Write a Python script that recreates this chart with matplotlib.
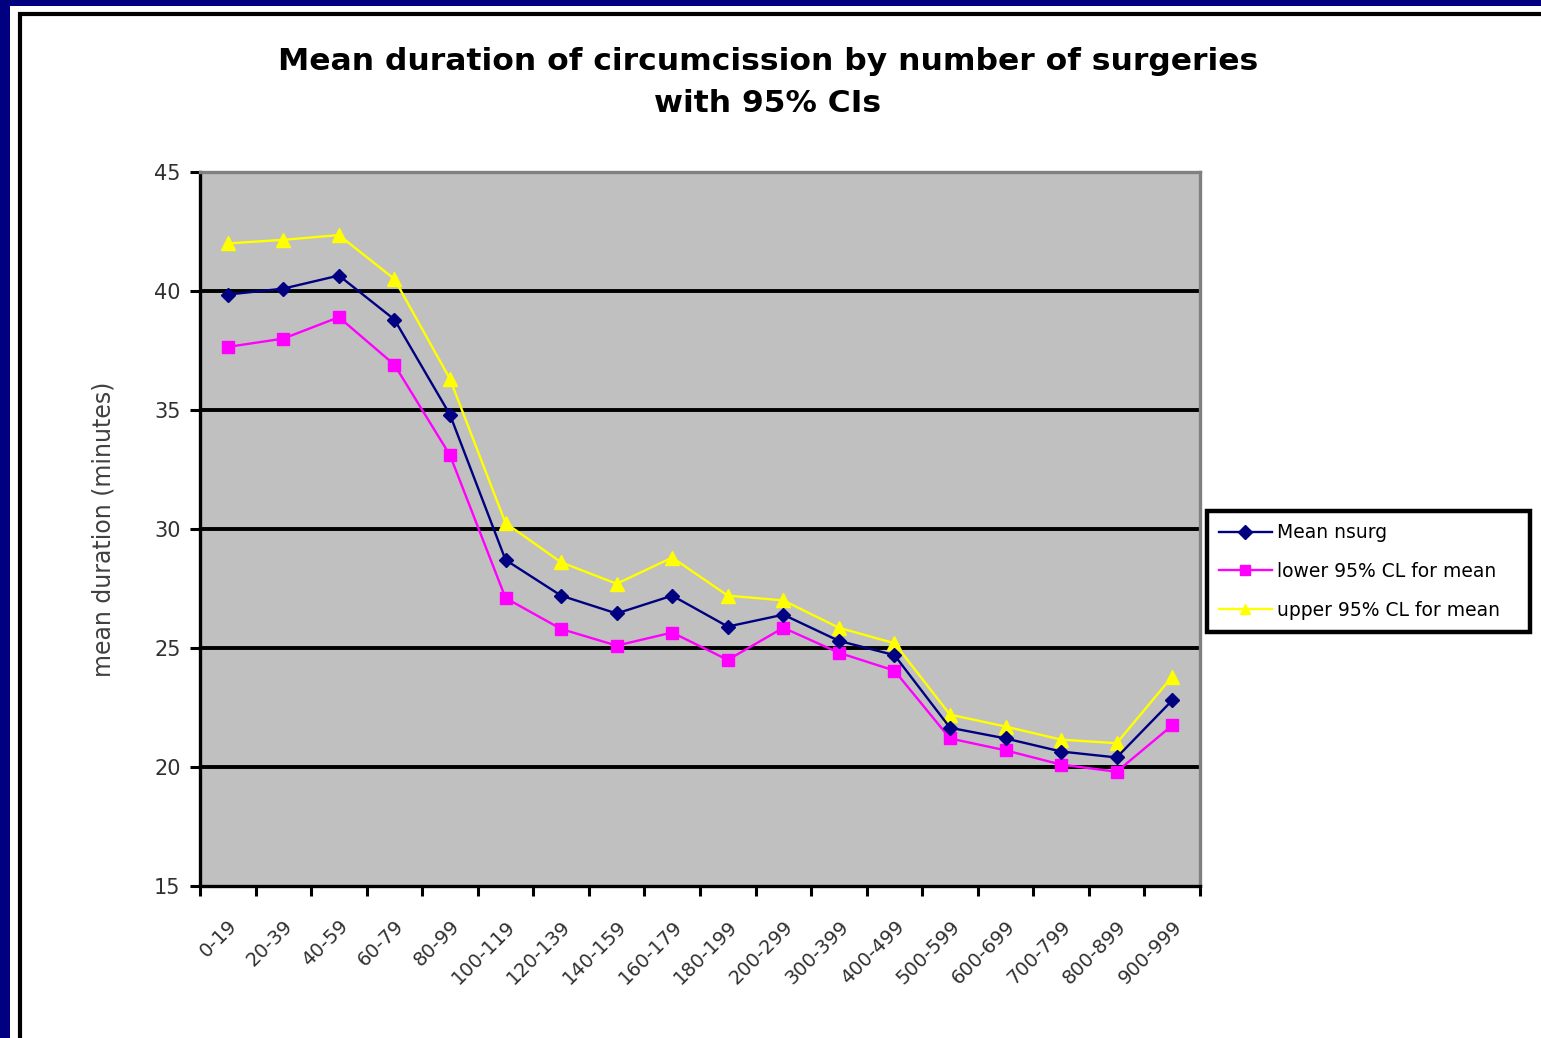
import matplotlib
matplotlib.use("Agg")
import matplotlib.pyplot as plt
from matplotlib.patches import Rectangle
import numpy as np

plt.rcParams['font.family'] = ['DejaVu Sans']

categories = ["0-19", "20-39", "40-59", "60-79", "80-99", "100-119", "120-139",
              "140-159", "160-179", "180-199", "200-299", "300-399", "400-499",
              "500-599", "600-699", "700-799", "800-899", "900-999"]
mean_nsurg = [39.85, 40.1, 40.65, 38.8, 34.8, 28.7, 27.2, 26.45, 27.2,
              25.9, 26.4, 25.3, 24.7, 21.65, 21.2, 20.65, 20.4, 22.8]
lower_ci = [37.65, 38.0, 38.9, 36.9, 33.1, 27.1, 25.8, 25.1, 25.65,
            24.5, 25.85, 24.8, 24.05, 21.2, 20.7, 20.1, 19.8, 21.75]
upper_ci = [42.0, 42.15, 42.35, 40.5, 36.3, 30.25, 28.6, 27.7, 28.8,
            27.2, 27.0, 25.85, 25.2, 22.2, 21.7, 21.15, 21.0, 23.8]

W, H = 1541, 1038
fig = plt.figure(figsize=(W / 100, H / 100), dpi=100)
fig.patch.set_facecolor("#000080")

# white slide panel with black frame
fig.patches.append(Rectangle((10 / W, 0), 1, 1 - 6 / H, transform=fig.transFigure,
                             facecolor="white", edgecolor="none", zorder=-2))
fig.patches.append(Rectangle((20 / W, -0.01), 1.0, 1 - 14 / H + 0.01,
                             transform=fig.transFigure, facecolor="white",
                             edgecolor="black", lw=3, zorder=-1))

ax = fig.add_axes([200 / W, 1 - 886 / H, 1000 / W, 714 / H])
ax.set_facecolor("#C0C0C0")

x = np.arange(len(categories)) + 0.5
ax.plot(x, mean_nsurg, color="#000080", lw=1.7, marker="D", ms=7,
        label="Mean nsurg", zorder=5)
ax.plot(x, lower_ci, color="#FF00FF", lw=1.7, marker="s", ms=9,
        label="lower 95% CL for mean", zorder=4)
ax.plot(x, upper_ci, color="#FFFF00", lw=1.7, marker="^", ms=10,
        label="upper 95% CL for mean", zorder=3)

ax.set_xlim(0, len(categories))
ax.set_ylim(15, 45)
ax.set_yticks(np.arange(15, 46, 5))
ax.yaxis.grid(True, color="black", lw=2.8)
ax.set_axisbelow(True)
grid = ax.get_ygridlines()
grid[0].set_visible(False)
grid[-1].set_visible(False)

ax.set_xticks(np.arange(len(categories) + 1))
ax.set_xticklabels([])
ax.set_xticks(x, minor=True)
ax.set_xticklabels(categories, minor=True, rotation=45, ha="right",
                   rotation_mode="anchor", fontsize=14, color="#303030")
ax.tick_params(axis="x", which="minor", length=0, pad=22)
ax.tick_params(axis="x", which="major", length=7, width=2.2, color="black")
ax.tick_params(axis="y", length=7, width=2.2, color="black", labelsize=15,
               labelcolor="#303030", pad=7)

for side in ("left", "bottom"):
    ax.spines[side].set_color("black")
    ax.spines[side].set_linewidth(2.4)
for side in ("top", "right"):
    ax.spines[side].set_color("#808080")
    ax.spines[side].set_linewidth(2.4)

ax.set_ylabel("mean duration (minutes)", fontsize=17, color="#404040", labelpad=28)

fig.text(768 / W, 1 - 62 / H, "Mean duration of circumcission by number of surgeries",
         ha="center", va="center", fontsize=22.6, fontweight="bold")
fig.text(768 / W, 1 - 103 / H, "with 95% CIs",
         ha="center", va="center", fontsize=22.6, fontweight="bold")

leg = fig.legend(loc="upper left",
                 bbox_to_anchor=(1207 / W, 1 - 511 / H, 323 / W, 0),
                 bbox_transform=fig.transFigure, mode="expand",
                 fontsize=13.5, frameon=True, framealpha=1,
                 fancybox=False, handlelength=2.8, borderpad=0.65,
                 labelspacing=1.05, handletextpad=0.3, borderaxespad=0)
leg.get_frame().set_edgecolor("black")
leg.get_frame().set_linewidth(3.2)
for h in leg.legend_handles:
    h.set_markersize(7)

fig.savefig("out.png", dpi=100, facecolor=fig.get_facecolor())
